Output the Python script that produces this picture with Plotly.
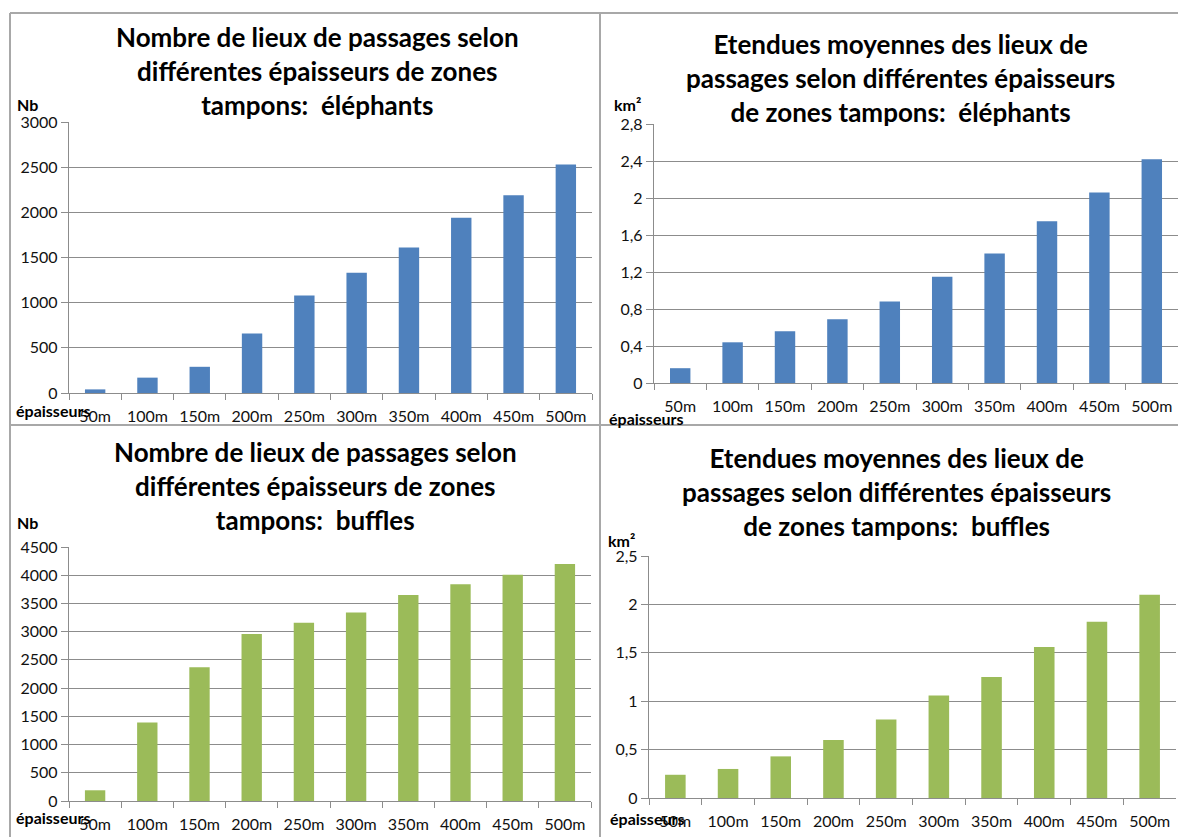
import plotly.graph_objects as go

W, H = 1178, 837

# Catégories : épaisseurs de zones tampons
epaisseurs = ["50m", "100m", "150m", "200m", "250m", "300m", "350m", "400m", "450m", "500m"]

# Nombre de lieux de passages
nb_elephants = [40, 170, 290, 660, 1080, 1330, 1610, 1940, 2190, 2530]
nb_buffles = [190, 1390, 2370, 2960, 3160, 3340, 3650, 3840, 4010, 4200]

# Etendues moyennes (km²)
km2_elephants = [0.16, 0.44, 0.56, 0.69, 0.88, 1.15, 1.40, 1.75, 2.06, 2.42]
km2_buffles = [0.24, 0.30, 0.43, 0.60, 0.81, 1.06, 1.25, 1.56, 1.82, 2.10]

# Graduations des axes verticaux
ticks_nb_eleph = [0, 500, 1000, 1500, 2000, 2500, 3000]
labels_nb_eleph = ["0", "500", "1000", "1500", "2000", "2500", "3000"]
ticks_km2_eleph = [0, 0.4, 0.8, 1.2, 1.6, 2.0, 2.4, 2.8]
labels_km2_eleph = ["0", "0,4", "0,8", "1,2", "1,6", "2", "2,4", "2,8"]
ticks_nb_buff = [0, 500, 1000, 1500, 2000, 2500, 3000, 3500, 4000, 4500]
labels_nb_buff = ["0", "500", "1000", "1500", "2000", "2500", "3000", "3500", "4000", "4500"]
ticks_km2_buff = [0, 0.5, 1.0, 1.5, 2.0, 2.5]
labels_km2_buff = ["0", "0,5", "1", "1,5", "2", "2,5"]

titres = [
    "Nombre de lieux de passages selon<br>différentes épaisseurs de zones<br>tampons:  éléphants",
    "Etendues moyennes des lieux de<br>passages selon différentes épaisseurs<br>de zones tampons:  éléphants",
    "Nombre de lieux de passages selon<br>différentes épaisseurs de zones<br>tampons:  buffles",
    "Etendues moyennes des lieux de<br>passages selon différentes épaisseurs<br>de zones tampons:  buffles",
]

BLEU = "#4F81BD"
VERT = "#9BBB59"
GRILLE = "#8C8C8C"
CADRE = "#A8A8A8"
FONT = "Lato"


def px_x(x):
    return x / W


def px_y(y):
    return 1 - y / H


# Zones de tracé (pixels) : x gauche, x droite, y haut, y bas
panneaux = [
    dict(x0=69, x1=592, y0=122, y1=393),
    dict(x0=654, x1=1178, y0=124, y1=383),
    dict(x0=69, x1=591, y0=547, y1=801),
    dict(x0=649, x1=1176, y0=556, y1=798),
]

series = [
    (nb_elephants, BLEU, ticks_nb_eleph, labels_nb_eleph, 3000),
    (km2_elephants, BLEU, ticks_km2_eleph, labels_km2_eleph, 2.8),
    (nb_buffles, VERT, ticks_nb_buff, labels_nb_buff, 4500),
    (km2_buffles, VERT, ticks_km2_buff, labels_km2_buff, 2.5),
]

fig = go.Figure()
layout = dict(
    width=W, height=H, autosize=False,
    margin=dict(l=0, r=0, t=0, b=0),
    paper_bgcolor="white", plot_bgcolor="white",
    showlegend=False, bargap=0.61,
    font=dict(family=FONT, size=16, color="#111111"),
)

for i, (p, (vals, col, tv, tt, ymax)) in enumerate(zip(panneaux, series)):
    n = "" if i == 0 else str(i + 1)
    fig.add_trace(go.Bar(x=epaisseurs, y=vals, marker=dict(color=col, line=dict(width=0)),
                         xaxis="x" + n, yaxis="y" + n))
    layout["xaxis" + n] = dict(
        domain=[px_x(p["x0"]), px_x(p["x1"])], anchor="y" + n,
        showgrid=False, showline=True, linecolor=GRILLE, linewidth=1.3,
        ticks="outside", tickson="boundaries", ticklen=6, tickcolor=GRILLE,
        tickfont=dict(family=FONT, size=16, color="#111111"),
        ticklabelstandoff=9, fixedrange=True, automargin=False,
    )
    layout["yaxis" + n] = dict(
        domain=[px_y(p["y1"]), px_y(p["y0"])], anchor="x" + n,
        range=[0, ymax], tickvals=tv, ticktext=tt,
        showgrid=True, gridcolor=GRILLE, gridwidth=1.3,
        showline=True, linecolor=GRILLE, linewidth=1.3,
        ticks="outside", ticklen=7, tickcolor=GRILLE,
        tickfont=dict(family=FONT, size=16, color="#111111"),
        zeroline=False, fixedrange=True, automargin=False,
    )

fig.update_layout(**layout)

# Titres
titre_pos = [(317, 71), (900, 78), (315, 486), (896, 492)]
for txt, (cx, cy) in zip(titres, titre_pos):
    fig.add_annotation(text="<b>" + txt + "</b>", x=px_x(cx), y=px_y(cy), xref="paper", yref="paper",
                       showarrow=False, xanchor="center", yanchor="middle",
                       font=dict(family=FONT, size=26, color="#000000"), align="center")

# Unités et nom de l'axe horizontal
etiquettes = [
    ("Nb", 15, 104), ("km²", 612, 104), ("Nb", 15, 522), ("km²", 606, 540),
    ("épaisseurs", 14, 410), ("épaisseurs", 607, 418), ("épaisseurs", 14, 817), ("épaisseurs", 608, 818),
]
for txt, x, y in etiquettes:
    fig.add_annotation(text="<b>" + txt + "</b>", x=px_x(x), y=px_y(y), xref="paper", yref="paper",
                       showarrow=False, xanchor="left", yanchor="middle",
                       font=dict(family=FONT, size=16, color="#000000"))

# Cadres des quatre graphiques
cadres = [
    (10, 13, 1178, 13), (10, 13, 10, 837), (600, 13, 600, 837), (10, 425, 1178, 425),
]
for x0, y0, x1, y1 in cadres:
    fig.add_shape(type="line", xref="paper", yref="paper",
                  x0=px_x(x0), y0=px_y(y0), x1=px_x(x1), y1=px_y(y1),
                  line=dict(color=CADRE, width=2))

# La page n'a pas de marge autour du graphique
fig.write_html("out.html",
               post_script="document.body.style.margin='0';document.body.style.overflow='hidden';")
